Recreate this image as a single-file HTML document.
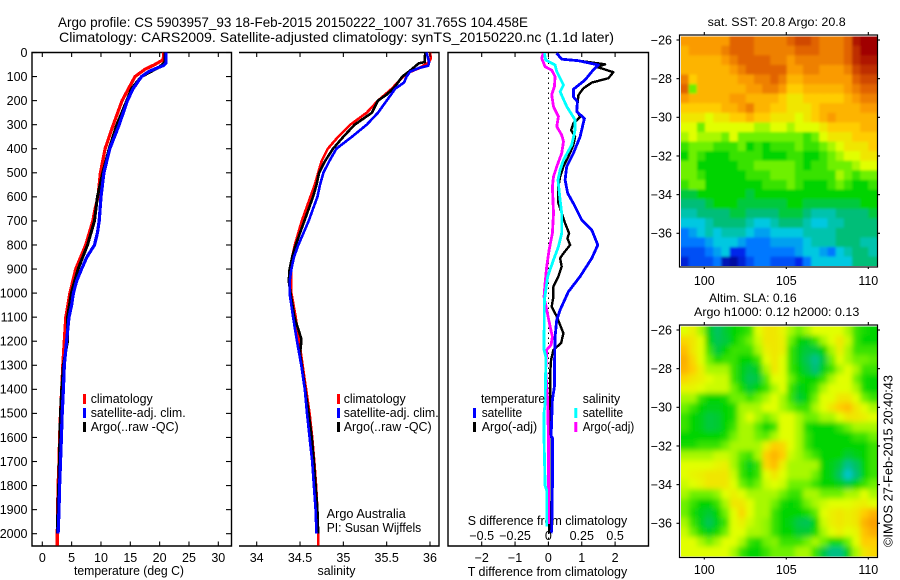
<!DOCTYPE html>
<html lang="en">
<head>
<meta charset="utf-8">
<title>Argo profile 5903957_93</title>
<style>
html,body{margin:0;padding:0;background:#fff;}
svg{display:block;font-family:"Liberation Sans",sans-serif;fill:#000;}
text{font-size:12.5px;}
.t{font-size:14px;}
.m{font-size:12px;}
</style>
</head>
<body>
<svg id="chart" width="900" height="580" viewBox="0 0 900 580" xmlns="http://www.w3.org/2000/svg">
  <defs>
    <clipPath id="clip-sst"><rect x="681" y="36.5" width="196" height="229.5"/></clipPath>
    <clipPath id="clip-sla"><rect x="681" y="326.5" width="196" height="230"/></clipPath>
    <filter id="soft-sst" filterUnits="userSpaceOnUse" x="650" y="10" width="250" height="280"><feGaussianBlur stdDeviation="1.2"/></filter>
    <filter id="soft-sla" filterUnits="userSpaceOnUse" x="650" y="300" width="250" height="280"><feGaussianBlur stdDeviation="2.6"/></filter>
  </defs>

  <text class="t" x="58" y="27" textLength="470" lengthAdjust="spacingAndGlyphs">Argo profile: CS 5903957_93 18-Feb-2015 20150222_1007 31.765S 104.458E</text>
  <text class="t" x="59" y="42" textLength="555" lengthAdjust="spacingAndGlyphs">Climatology: CARS2009. Satellite-adjusted climatology: synTS_20150220.nc (1.1d later)</text>

  <g id="panel-temp">
    <path d="M32 52.5H231.5V546H32Z" fill="none" stroke="#000" stroke-width="1.4"/>
    <text x="74" y="575" textLength="110" lengthAdjust="spacingAndGlyphs">temperature (deg C)</text>
  </g>
  <g id="panel-sal">
    <path d="M239 52.5H439V546H239" fill="none" stroke="#000" stroke-width="1.4"/>
    <text x="317.5" y="575" textLength="38" lengthAdjust="spacingAndGlyphs">salinity</text>
  </g>
  <g id="panel-diff">
    <path d="M448 52.5H648.5V546H448Z" fill="none" stroke="#000" stroke-width="1.4"/>
    <line x1="548.5" y1="52.5" x2="548.5" y2="546" stroke="#000" stroke-width="1" stroke-dasharray="1.5 3.5"/>
    <text x="467.7" y="525" textLength="159.5" lengthAdjust="spacingAndGlyphs">S difference from climatology</text>
    <text x="467.7" y="576" textLength="159.5" lengthAdjust="spacingAndGlyphs">T difference from climatology</text>
  </g>

  <g id="marks-temp"></g>
  <g id="marks-sal"></g>
  <g id="marks-diff"></g>
  <g id="ticks"></g>

  <g>
    <rect x="83" y="394" width="3" height="10" fill="#f00"/>
    <rect x="83" y="408" width="3" height="10" fill="#00f"/>
    <rect x="83" y="422" width="3" height="10" fill="#000"/>
    <text x="90.7" y="403" textLength="62" lengthAdjust="spacingAndGlyphs">climatology</text>
    <text x="90.7" y="417" textLength="95" lengthAdjust="spacingAndGlyphs">satellite-adj. clim.</text>
    <text x="90.7" y="431" textLength="88" lengthAdjust="spacingAndGlyphs">Argo(..raw -QC)</text>
  </g>
  <g>
    <rect x="337" y="394" width="3" height="10" fill="#f00"/>
    <rect x="337" y="408" width="3" height="10" fill="#00f"/>
    <rect x="337" y="422" width="3" height="10" fill="#000"/>
    <text x="343.7" y="403" textLength="62" lengthAdjust="spacingAndGlyphs">climatology</text>
    <text x="343.7" y="417" textLength="95" lengthAdjust="spacingAndGlyphs">satellite-adj. clim.</text>
    <text x="343.7" y="431" textLength="88" lengthAdjust="spacingAndGlyphs">Argo(..raw -QC)</text>
    <text x="326.7" y="518" textLength="79" lengthAdjust="spacingAndGlyphs">Argo Australia</text>
    <text x="326.7" y="532" textLength="94.5" lengthAdjust="spacingAndGlyphs">PI: Susan Wijffels</text>
  </g>
  <g>
    <text x="481" y="403" textLength="64" lengthAdjust="spacingAndGlyphs">temperature</text>
    <rect x="473" y="408" width="3" height="10" fill="#00f"/>
    <text x="481.7" y="417" textLength="40.5" lengthAdjust="spacingAndGlyphs">satellite</text>
    <rect x="473" y="422" width="3" height="10" fill="#000"/>
    <text x="481.7" y="431" textLength="55.5" lengthAdjust="spacingAndGlyphs">Argo(-adj)</text>
    <text x="582.7" y="403" textLength="37.5" lengthAdjust="spacingAndGlyphs">salinity</text>
    <rect x="574.3" y="408" width="3" height="10" fill="#0ff"/>
    <text x="582.7" y="417" textLength="40.5" lengthAdjust="spacingAndGlyphs">satellite</text>
    <rect x="574.3" y="422" width="3" height="10" fill="#f0f"/>
    <text x="582.7" y="431" textLength="51.5" lengthAdjust="spacingAndGlyphs">Argo(-adj)</text>
  </g>

  <text class="m" x="707.7" y="26" textLength="138" lengthAdjust="spacingAndGlyphs">sat. SST: 20.8 Argo: 20.8</text>
  <text class="m" x="709" y="302" textLength="87.7" lengthAdjust="spacingAndGlyphs">Altim. SLA: 0.16</text>
  <text class="m" x="694" y="316" textLength="165.3" lengthAdjust="spacingAndGlyphs">Argo h1000: 0.12 h2000: 0.13</text>

  <g clip-path="url(#clip-sst)"><g id="cells-sst" filter="url(#soft-sst)"></g></g>
  <g clip-path="url(#clip-sla)"><g id="cells-sla" filter="url(#soft-sla)"></g></g>
  <rect x="679.5" y="35" width="198" height="232" fill="none" stroke="#000" stroke-width="1.2"/>
  <rect x="679.5" y="325" width="198" height="232.5" fill="none" stroke="#000" stroke-width="1.2"/>

  <text transform="translate(892.5 547) rotate(-90)" x="0" y="0" textLength="172" lengthAdjust="spacingAndGlyphs">©IMOS 27-Feb-2015 20:40:43</text>
</svg>

<script>
// ---- axis values ----
const depthTicks = [0,100,200,300,400,500,600,700,800,900,1000,1100,1200,1300,1400,1500,1600,1700,1800,1900,2000];
const tempTicks = [0,5,10,15,20,25,30];
const salTicks = [34,34.5,35,35.5,36];
const salTickLabels = ['34','34.5','35','35.5','36'];
const diffTTicks = [-2,-1,0,1,2];
const diffTTickLabels = ['\u22122','\u22121','0','1','2'];
const diffSTicks = [-0.5,-0.25,0,0.25,0.5];
const diffSTickLabels = ['\u22120.5','\u22120.25','0','0.25','0.5'];
const lonTicks = [100,105,110];
const latTicks = [-26,-28,-30,-32,-34,-36];

// ---- temperature profiles ----
const tempClimDepth = [0,30,50,70,100,150,200,300,400,500,600,650,700,800,900,1000,1100,1200,1300,1400,1500,1600,1700,1800,1900,2000,2050];
const tempClimValue = [20.7,20.6,19.2,17.5,15.8,14.7,13.6,12.1,10.7,9.9,9.5,9.0,8.6,7.4,5.7,4.7,4.0,3.75,3.5,3.3,3.1,2.95,2.85,2.7,2.6,2.55,2.55];
const tempSatDepth = [0,30,45,55,65,80,100,150,200,300,400,500,600,700,750,800,850,900,950,1000,1050,1100,1200,1300,1400,1500,1600,1700,1800,1900,2000];
const tempSatValue = [21.1,21.1,21.05,20.6,19.5,18.1,16.9,15.5,14.5,13.1,11.5,10.5,10,9.7,9.4,8.9,7.6,6.7,5.85,5.3,5,4.55,4.15,3.75,3.6,3.4,3.25,3.1,2.95,2.85,2.7];
const tempArgoDepth = [0,40,60,100,150,200,300,400,500,600,700,800,900,1000,1100,1200,1300,1400,1500,1600,1700,1800,1900,2000];
const tempArgoValue = [20.9,20.9,20,16.9,15.2,14.4,12.7,11.4,10.3,9.4,8.9,7.7,6.1,4.95,4.3,4.3,3.6,3.3,3.1,3,2.9,2.8,2.65,2.6];

// ---- salinity profiles ----
const salClimDepth = [0,25,40,66,87,100,150,200,250,300,350,400,450,500,550,600,650,700,750,800,850,900,950,1000,1100,1200,1300,1400,1500,1600,1700,1800,1900,2000,2050];
const salClimValue = [36,36.01,35.99,35.87,35.73,35.69,35.56,35.4,35.27,35.08,34.94,34.82,34.75,34.71,34.67,34.62,34.57,34.52,34.48,34.44,34.41,34.4,34.4,34.4,34.45,34.49,34.53,34.57,34.61,34.64,34.665,34.685,34.7,34.71,34.71];
const salSatDepth = [0,40,55,65,80,100,125,150,200,250,300,350,400,450,500,550,600,650,700,750,800,850,900,950,1000,1100,1200,1300,1400,1500,1600,1700,1800,1900,2000];
const salSatValue = [35.96,35.99,35.98,35.87,35.77,35.73,35.7,35.6,35.5,35.4,35.27,35.1,34.92,34.84,34.77,34.73,34.7,34.65,34.6,34.54,34.48,34.43,34.4,34.38,34.38,34.42,34.465,34.515,34.555,34.58,34.61,34.64,34.66,34.68,34.69];
const salArgoDepth = [0,15,40,45,70,100,140,175,200,250,275,300,350,400,450,500,550,600,650,700,750,800,850,900,950,1000,1100,1150,1190,1220,1250,1300,1400,1500,1600,1700,1800,1900,2000];
const salArgoValue = [35.95,35.94,35.94,35.87,35.79,35.68,35.6,35.5,35.4,35.33,35.23,35.13,35,34.88,34.79,34.72,34.69,34.65,34.6,34.55,34.5,34.45,34.41,34.38,34.37,34.39,34.435,34.48,34.515,34.51,34.5,34.52,34.56,34.6,34.635,34.66,34.68,34.7,34.71];

// ---- difference profiles ----
const diffTSatDepth = [3,28,34,52,80,114,153,184,204,246,274,350,419,474,530,585,627,696,738,800,855,931,994,1070,1112,1181,1319,1389,1444,1596,1600,1800,1984,1998];
const diffTSatValue = [0.25,0.4,0.9,1.5,1.3,1.1,0.75,0.75,0.87,0.85,1.08,0.95,0.75,0.55,0.5,0.58,0.75,1.0,1.3,1.48,1.3,0.95,0.6,0.35,0.25,0.2,0.18,0.18,0.12,0.08,0.12,0.12,0.1,0.08];
const diffTArgoDepth = [3,28,34,49,60,82,107,125,149,177,204,239,269,294,322,350,384,433,474,516,558,627,668,710,751,772,800,835,855,890,931,973,1015,1056,1097,1132,1167,1208,1236,1277,1319,1389,1458,1600,2000];
const diffTArgoValue = [0.25,0.4,0.9,1.7,1.45,1.95,1.8,1.3,1.05,0.9,0.88,0.85,0.95,0.75,0.68,0.8,0.75,0.6,0.45,0.35,0.3,0.3,0.4,0.5,0.62,0.57,0.65,0.45,0.35,0.4,0.3,0.15,0.15,0.1,0.25,0.35,0.45,0.38,0.15,0.08,0.06,0.05,0.05,0.02,0.02];
const diffSSatDepth = [3,31,52,80,135,163,225,280,322,384,447,488,530,613,668,751,807,862,931,1029,1236,1264,1319,1458,1500,1596,1800,1820,1970];
const diffSSatValue = [-0.03,-0.02,0.05,0.063,0.113,0.088,0.138,0.2,0.2,0.175,0.113,0.088,0.072,0.088,0.1,0.1,0.075,0.038,-0.005,-0.03,-0.033,-0.02,-0.02,-0.025,-0.033,-0.033,-0.025,-0.013,-0.013];
const diffSArgoDepth = [3,24,59,73,100,142,176,225,266,308,343,370,419,474,516,558,668,751,821,890,959,1015,1070,1139,1181,1215,1236,1319,1450,1600,1800,1960];
const diffSArgoValue = [-0.038,-0.05,-0.025,0.025,0.05,0.045,0.025,0.038,0.075,0.063,0.1,0.113,0.1,0.063,0.038,0.03,0.038,0.03,0.005,-0.013,-0.025,-0.033,-0.013,0.013,0.03,0.02,-0.013,-0.02,-0.005,0,0,0];

// ---- SST map values (colour-index units, north at top) ----
const sstRows = [
[9,9,9,9,9,9,10,10,10,9.5,9.5,9.5,9.5,10,10.5,10.5,10,9.5,9.5,9.5,10,11.5,12,12],
[8.5,9,9,9,9,9.5,10,10,10,9.5,9.5,9.5,9.5,9.5,10,10,10,9.5,9.5,9.5,10,11,12,12],
[8.5,8.5,8.5,8.5,8.5,9,9.5,10,10,10,10,9.5,9.5,9,9.5,9.5,9.5,9.5,9.5,9.5,10,11,11.5,11.5],
[8.5,8.5,8.5,8.5,8.5,8.5,9,9.5,10,10,10,10,10,9,9,9.5,9.5,9,9,9,9.5,10.5,11,11],
[9.5,8,8.5,8.5,8.5,8.5,8.5,9,9,9.5,9.5,10,9.5,8.5,8.5,9,9,9,9,9,9,10,10.5,10.5],
[10,6,8.5,8.5,8.5,8.5,8.5,8.5,9,9,9.5,9.5,9,8,8,8.5,8.5,8.5,8.5,8.5,9,9.5,10,10],
[9,8.5,8.5,8.5,8.5,8.5,9,9,8.5,8.5,8.5,8.5,8,7.5,7.5,8,8,8,8,8,8.5,9,9.5,9.5],
[8,8,8,8,8,8.5,8.5,9,9.5,8.5,8.5,8,8,7.5,7.5,7.5,8,8.5,8.5,8.5,8.5,8.5,9,9],
[7.5,7.5,7.5,7,7.5,7.5,8,8,8.5,8,8,7.5,7.5,7.5,7,7.5,8,8.5,9,8.5,8.5,8.5,8.5,8.5],
[7,7,6,7,7,7,7,7,7,6.5,6.5,7,7,6.5,7,7,7,7.5,8,8,8,8,8.5,8.5],
[6.5,7,6.5,6.5,6.5,6,7,6,6,6,6,6,6,6,6,5.5,6,7,7.5,7.5,7.5,8,8,8],
[5.5,6,6,6,5.5,5.5,5.5,6,5,5.5,5,5.5,5.5,5.5,6,5.5,5.5,6,6.5,7,7.5,7.5,7.5,8],
[5,6,5.5,5,5,5,5.5,5.5,5.5,5.5,5,5,5,5.5,5.5,5,5,5.5,6,6.5,7,7,7.5,7.5],
[6,6,5,5,5,5,5,5.5,5.5,6,6,6,6,6,5.5,5,5.5,5.5,6,6,6,6.5,7,7],
[6,6,5.5,5,5,5,5,5,5.5,5.5,5.5,6,6,6,5.5,5.5,5.5,5.5,5.5,6.5,6,5.5,6,6],
[5.5,6,6,5,5,5,5,5,5,5,5.5,5.5,5.5,6,5.5,5,5,5,5.5,6,5.5,5,5,5.5],
[4.5,4.5,5,5,5,5,5,5,4.5,5,5,5,5,5,5,5,5,5,5,5,5,5,5,5],
[4,4,4,4.5,5,5,5,4.5,4.5,4.5,4.5,4.5,4.5,5,5,4.5,4.5,4.5,4.5,4.5,4.5,4.5,5,5],
[3.5,3.5,4,4,4,4,4.5,4.5,4,4,4,4,4.5,4.5,4.5,4,3.5,3.5,3.5,4,4,4,4,4.5],
[3,3,3,3.5,4,4,4,4,3.5,3,3,3.5,4,4,4,3.5,3,3,3.5,3.5,4,4,4,4],
[2,2.5,3,3.5,3,3.5,3.5,3.5,3,2.5,2.5,3,3,3,3,3.5,3.5,3.5,3.5,4,4,4,4,4],
[2,2,2,2.5,3,3,3,2.5,2,2,2,2.5,2.5,2.5,2.5,3,3.5,3.5,3.5,4,4,4,3.5,3.5],
[1.5,1.5,1.5,2,2.5,3,1,1,2,2,2,2,2,2,2.5,3,3,2.5,2,3,3.5,4,4,3.5],
[0.8,1.5,1.5,1.5,2,0.5,0.3,0.8,1.5,2,2,1.5,1.5,1.5,1,2,3,3,3,3,3,4,4,4]
];

// ---- SLA map values (colour-index units, north at top) ----
const slaRows = [
[7,7.3,6.5,4.8,4.2,4.6,5,5.2,5.5,7,7.5,7.5,7.2,6.5,6,6.5,7,7,7,7,6.5,5.5,5.2,5],
[7.8,7.5,7,5,4.3,4.5,5,5.5,6,6.8,7.5,7.5,7.3,6,5,4.8,5.5,6.5,7,7.5,6.8,5.5,5,5],
[8.3,7.5,7,5.5,4.5,5,5.5,5.5,5.5,6.5,7.3,7.5,7.3,5.5,4.8,4.5,4.5,5,6.5,7.3,6.5,5.5,5.5,5.5],
[8.6,7.8,7,6,5.2,5.5,5.5,5,5,5.5,7,7.5,7,5.5,4.8,4.3,3.8,4.5,6,7,6.5,6,6,5.8],
[8.5,8,7.3,6.5,6.5,6.5,5.5,4.8,4.5,4.8,6.5,7.5,7,5.5,5,4.5,4,4.8,5.5,6.5,7,6.5,5.5,5.5],
[7.8,7.5,7.3,7,6.8,6.8,5.5,4.8,4.3,4.5,5.8,7,7,6,5.2,5,5,5.5,6.5,7,7,6,5.2,5],
[7.2,7.2,7,6.8,6.8,6.8,6,5.2,4.6,5,5.5,6.5,7,5.5,4.8,5,5.5,6.5,7,7,7,6.5,5.2,5],
[6.5,6.5,5.5,5,5,5.2,6,6,5.5,6,6.5,7,6.5,5.5,4.6,5,6,7,7,7.5,7.5,7,6,5.5],
[6,5.5,5,4.8,4.8,5,5.2,6.5,6.5,6.5,7,7,6.5,6,5.5,5.5,6.5,7,7.5,8,8.3,7.5,7,6.5],
[5.5,5,4.8,4.5,4.6,5,5.2,6.5,7,6.5,6,6.5,7,7,6.5,6,6,6.5,6.5,7,7.5,7.5,7.3,7],
[5.5,5,4.8,4.5,4.6,5,5.5,6.5,6.5,5.8,5,5.5,7,7,6.5,5.2,5,5,5,5.5,6,6.5,6.5,6.5],
[5,5,5,5,5,5.2,6,6.5,6.5,6,5.8,6.5,7,7,6.5,5.5,5,5,5,5,5,5.5,5.5,6],
[5.2,5.2,5.5,5.5,5.5,6,6.5,6.5,6.5,6.5,7.3,8,7.8,7,6.5,5.5,5,5,5,5,5,5,5,5.5],
[6.5,6.5,6.5,6.5,6.8,6.8,6.5,5.8,5.5,6.5,8,8.5,8,6.8,6.5,6,5.5,5,5,5,4.6,4.8,5,5.5],
[7,7,7,7,7.2,7.3,6.5,5.5,4.8,5.5,7.8,8.3,7.3,6.5,6.5,6.5,6.5,5,4.8,4.5,3.8,4.2,5,5.5],
[7,7.2,7.3,7.5,7.5,7.5,6.8,5.5,5,5.5,7,7.5,7,6.5,6.5,6.5,6,5,4.8,4.2,3.2,4,5,5.5],
[6.8,7,7.2,7.5,7.5,7.5,7,6,5.5,6,6.8,7,6.8,6,6,6,5.5,5,5,4.8,4.5,5,5.5,6],
[6.5,6,6,6,6.3,7,7.3,7,6.5,6.5,6.5,6.5,6,5.5,5.5,6.5,6.5,6,6,6,6.5,6.5,7,6.5],
[6,5.5,5,5,5.5,6.5,7.5,7.5,7,6.5,6.5,6,5.2,5,5.2,6,6.5,6.8,7,7,7,7.2,7.3,7],
[6,5.2,4.8,4.6,5,6,7,7.8,7,6.5,6.5,5.5,5,5,5,5.2,5.8,7,7.3,7.5,7.3,7.5,8,8.5],
[6.5,5.5,4.8,4.3,4.8,5.5,7,7.3,6.8,6.5,6.3,5.5,5,4.8,4.4,4.3,5,6.8,7.3,7.5,7.3,7.5,8.5,8.9],
[6.8,6,5.2,4.8,5.2,6,7,7,6.5,6.5,6.3,5.5,5,5,4.6,4.6,5.2,6.5,7,7.3,7,7.2,8.2,8.6],
[7,7,6.5,6,6.5,7,7,6.5,5.5,5.2,6,6.2,5.5,5.5,5.5,6,6.5,6,5.2,5.2,6,7,8,8],
[7,7,7,7,7,7,6.5,5.5,5,5,5.5,6,6,6,6.5,6.5,5.5,4.5,3.9,3.9,4.8,6.5,7.5,7.8]
];

// ---- axis functions ----
function yDepth(d){ return 52.5 + d * 0.2406; }
function xTemp(t){ return 42.3 + t * 5.867; }
function xSal(s){ return 256.7 + (s - 34) * 86.65; }
function xDiffT(t){ return 548.4 + t * 33.35; }
function xDiffS(s){ return 548.4 + s * 133.4; }
function xLon(lon){ return 704.3 + (lon - 100) * 16.4; }
function yLatSst(lat){ return 40 + (-26 - lat) * 19.33; }
function yLatSla(lat){ return 330 + (-26 - lat) * 19.33; }

const NS = 'http://www.w3.org/2000/svg';
function svgEl(tag, attrs, parent){
  const el = document.createElementNS(NS, tag);
  for (const k in attrs) el.setAttribute(k, attrs[k]);
  parent.appendChild(el);
  return el;
}
function profile(depths, values, xFn, color, width, parent){
  const pts = depths.map(function(d, i){ return xFn(values[i]).toFixed(1) + ',' + yDepth(d).toFixed(1); }).join(' ');
  return svgEl('polyline', {points: pts, fill: 'none', stroke: color, 'stroke-width': width, 'stroke-linejoin': 'round', 'shape-rendering': 'crispEdges'}, parent);
}

const marksTemp = document.getElementById('marks-temp');
const marksSal = document.getElementById('marks-sal');
const marksDiff = document.getElementById('marks-diff');
const tickLayer = document.getElementById('ticks');

let el;
el = profile(tempClimDepth, tempClimValue, xTemp, '#f00', 3.2, marksTemp);


el = profile(tempArgoDepth, tempArgoValue, xTemp, '#000', 3, marksTemp);


el = profile(tempSatDepth, tempSatValue, xTemp, '#00f', 3.2, marksTemp);



el = profile(salClimDepth, salClimValue, xSal, '#f00', 2.6, marksSal);


el = profile(salArgoDepth, salArgoValue, xSal, '#000', 2.6, marksSal);


el = profile(salSatDepth, salSatValue, xSal, '#00f', 2.6, marksSal);



el = profile(diffTArgoDepth, diffTArgoValue, xDiffT, '#000', 2.4, marksDiff);


el = profile(diffTSatDepth, diffTSatValue, xDiffT, '#00f', 2.8, marksDiff);


el = profile(diffSArgoDepth, diffSArgoValue, xDiffS, '#f0f', 2.8, marksDiff);


el = profile(diffSSatDepth, diffSSatValue, xDiffS, '#0ff', 2.8, marksDiff);



// ---- ticks ----
function tickLine(x1, y1, x2, y2){
  const el = svgEl('line', {x1: x1, y1: y1, x2: x2, y2: y2, stroke: '#000', 'stroke-width': 1.1}, tickLayer);
  
  
  return el;
}
function tickText(str, x, y, anchor){
  const el = svgEl('text', {x: x, y: y, 'text-anchor': anchor}, tickLayer);
  el.textContent = str;
  
  
  return el;
}
depthTicks.forEach(function(d){
  const y = yDepth(d);
  tickLine(32, y, 37, y);
  tickLine(231.5, y, 226, y);
  tickText(String(d), 27.5, y + 4.3, 'end');
});
function xAxisTicks(values, labels, xFn){
  values.forEach(function(v, i){
    const x = xFn(v);
    tickLine(x, 52.5, x, 57);
    tickLine(x, 546, x, 541.5);
    tickText(labels[i], x, 562, 'middle');
  });
}
xAxisTicks(tempTicks, tempTicks.map(String), xTemp);
xAxisTicks(salTicks, salTickLabels, xSal);
xAxisTicks(diffTTicks, diffTTickLabels, xDiffT);
diffSTicks.forEach(function(v, i){
  tickText(diffSTickLabels[i], xDiffS(v), 540, 'middle');
});
function mapTicks(yLat, top, bottom, labelY){
  lonTicks.forEach(function(lon){
    const x = xLon(lon);
    tickLine(x, top - 3, x, top);
    tickLine(x, bottom, x, bottom + 2);
    tickText(String(lon), x, labelY, 'middle');
  });
  latTicks.forEach(function(lat){
    const y = yLat(lat);
    tickLine(676.5, y, 679.5, y);
    tickLine(877.5, y, 880, y);
    tickText('\u2212' + Math.abs(lat), 672, y + 4.3, 'end');
  });
}
mapTicks(yLatSst, 35, 267, 285);
mapTicks(yLatSla, 325, 557.5, 574);

// ---- heatmaps ----
const colorStops = [
  [0,0,0,128],[1,0,40,235],[2,0,120,255],[3,0,200,225],[4,0,190,120],[5,0,212,0],
  [6,110,240,0],[7,225,255,0],[8,255,205,0],[9,250,155,0],[10,225,100,0],[11,190,45,0],[12,160,0,0]
];
function colorOf(v){
  const c = Math.max(0, Math.min(12, v));
  const i = Math.min(11, Math.floor(c));
  const f = c - i;
  const a = colorStops[i], b = colorStops[i + 1];
  return 'rgb(' + Math.round(a[1] + (b[1] - a[1]) * f) + ',' + Math.round(a[2] + (b[2] - a[2]) * f) + ',' + Math.round(a[3] + (b[3] - a[3]) * f) + ')';
}
function drawMap(rows, parentId, yLat, isSst){
  const parent = document.getElementById(parentId);
  const west = 98.55, east = 110.5, north = -25.8, south = -37.7;
  rows.forEach(function(row, r){
    row.forEach(function(v, c){
      let x0 = xLon(west + (east - west) * c / row.length);
      let x1 = xLon(west + (east - west) * (c + 1) / row.length);
      let y0 = yLat(north + (south - north) * r / rows.length);
      let y1 = yLat(north + (south - north) * (r + 1) / rows.length);
      if (c === 0) x0 -= 14;
      if (c === row.length - 1) x1 += 14;
      if (r === 0) y0 -= 14;
      if (r === rows.length - 1) y1 += 14;
      const cell = svgEl('rect', {x: x0.toFixed(1), y: y0.toFixed(1), width: (x1 - x0 + 0.6).toFixed(1), height: (y1 - y0 + 0.6).toFixed(1), fill: colorOf(v)}, parent);
      
      
    });
  });
}
drawMap(sstRows, 'cells-sst', yLatSst, true);
drawMap(slaRows, 'cells-sla', yLatSla, false);
</script>
</body>
</html>
